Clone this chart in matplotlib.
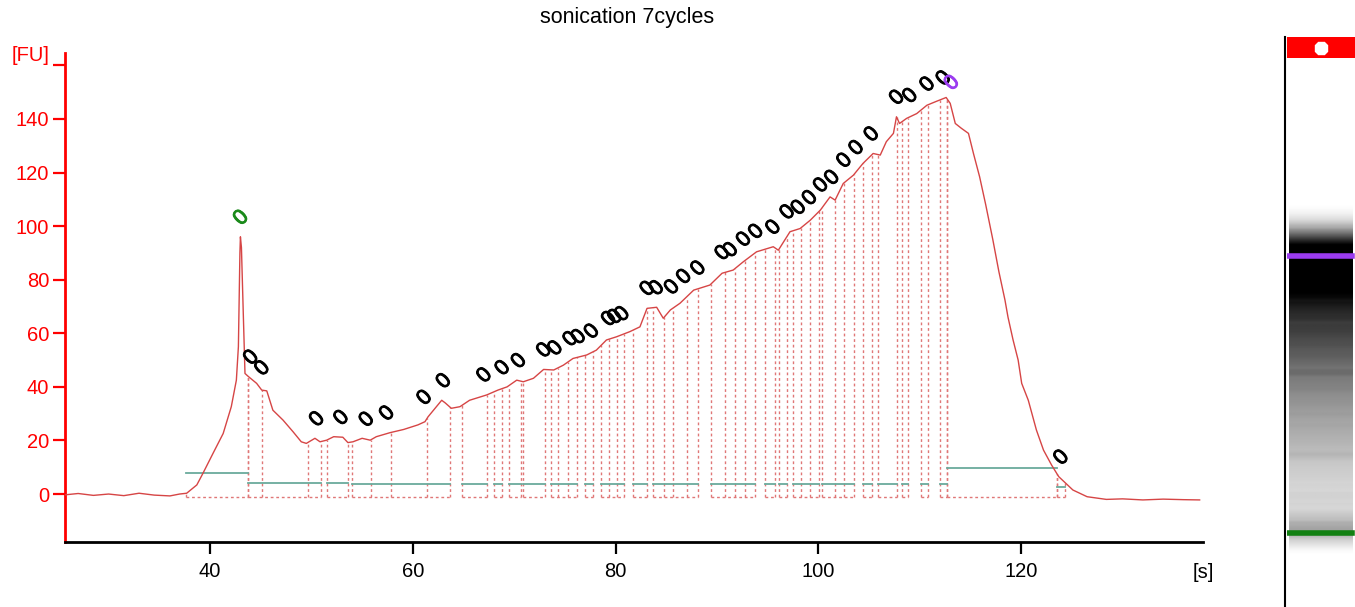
import numpy as np
import matplotlib
matplotlib.use("Agg")
import matplotlib.pyplot as plt
import matplotlib.patheffects as pe
from matplotlib.lines import Line2D

plt.rcParams['font.family'] = ['Liberation Sans', 'DejaVu Sans']

# ---------------- data ----------------
title = "sonication 7cycles"

time_s = [25.7, 27.0, 28.5, 30.0, 31.5, 33.0, 34.5, 36.05, 37.0, 37.7, 38.7, 39.3,
          40.3, 41.3, 42.1, 42.6, 42.8, 42.95, 43.0, 43.1, 43.3, 43.45, 43.8, 44.6,
          45.1, 45.6, 46.2, 47.2, 48.2, 49.0, 49.5, 50.35, 50.85, 51.5, 52.2, 53.1,
          53.6, 54.1, 55.0, 55.8, 56.4, 57.75, 59.1, 60.5, 61.2, 61.5, 62.85, 63.2,
          63.8, 64.65, 65.6, 67.3, 68.4, 69.3, 70.25, 70.9, 71.9, 72.9, 73.9, 74.85,
          75.8, 77.15, 78.1, 79.1, 80.1, 81.4, 82.4, 83.1, 84.05, 84.7, 85.4, 86.35,
          87.7, 89.3, 90.5, 91.6, 92.6, 93.9, 95.55, 96.05, 97.2, 98.2, 99.2, 100.2,
          101.15, 101.65, 102.45, 103.45, 104.4, 105.4, 106.1, 106.7, 107.4, 107.7,
          108.0, 108.7, 109.7, 110.7, 111.6, 112.6, 113.0, 113.5, 114.1, 114.8, 115.3,
          115.9, 116.5, 117.2, 117.8, 118.4, 118.7, 119.2, 119.7, 120.05, 120.7, 121.5,
          122.2, 123.0, 123.7, 125.1, 126.5, 128.4, 130.0, 132.0, 134.0, 136.0, 137.6]
fu = [-0.3, 0.2, -0.5, 0.0, -0.6, 0.3, -0.4, -0.7, 0.0, 0.3, 3.4, 7.7,
      15.2, 22.6, 32.6, 42.5, 55.0, 90.0, 96.0, 92.0, 65.0, 45.0, 43.8, 41.3,
      38.8, 38.5, 31.3, 27.6, 23.2, 19.5, 18.9, 20.8, 19.5, 20.1, 21.4, 21.2,
      19.2, 19.5, 20.8, 20.1, 21.4, 22.9, 24.1, 25.8, 27.0, 28.8, 35.0, 34.0,
      32.0, 32.6, 35.0, 37.0, 38.8, 40.0, 42.5, 41.9, 43.2, 46.5, 46.3, 48.1,
      50.6, 51.9, 53.7, 57.5, 58.7, 60.6, 62.4, 69.3, 69.7, 65.6, 68.7, 71.2,
      76.1, 78.0, 82.4, 83.6, 86.7, 90.4, 92.3, 91.0, 97.9, 99.1, 102.2, 106.0,
      110.9, 109.7, 115.9, 119.0, 123.4, 127.1, 126.5, 131.5, 134.6, 140.8,
      138.3, 140.2, 142.0, 145.1, 146.5, 148.0, 145.8, 138.3, 136.5, 134.6, 127.0,
      118.4, 108.0, 95.0, 83.0, 72.4, 66.0, 57.5, 50.0, 41.3, 35.0, 23.9,
      16.4, 10.8, 6.5, 1.5, -1.0, -2.0, -1.8, -2.2, -1.9, -2.1, -2.2]

lower_marker = 43.1
upper_marker = 113.2
peak_times = [44.1, 45.2, 50.6, 53.0, 55.5, 57.5, 61.2, 63.1, 67.1, 68.9,
              70.5, 73.0, 74.1, 75.6, 76.4, 77.7, 79.4, 80.0, 80.7, 83.2,
              84.1, 85.6, 86.8, 88.2, 90.6, 91.4, 92.7, 93.9, 95.6, 97.0,
              98.1, 99.2, 100.3, 101.4, 102.6, 103.8, 105.3, 107.8, 109.1, 110.8,
              112.4, 124.0]

peak_groups = [
    [37.63, 43.75],
    [43.75, 45.08, 49.62, 50.95],
    [51.54, 53.61],
    [54.0, 55.88, 57.85, 61.40, 63.67],
    [64.85, 67.32],
    [68.01, 68.80],
    [69.49, 70.67],
    [70.87, 73.04],
    [73.63, 74.32, 75.31, 76.19],
    [76.98, 77.77],
    [78.56, 79.35, 80.14, 80.83],
    [81.72, 83.10],
    [83.69, 84.77, 85.66, 87.04, 88.13],
    [89.41, 90.79, 91.78, 92.76, 93.75],
    [94.73, 95.73],
    [96.12, 96.90],
    [97.50, 98.28, 99.17, 100.08],
    [100.36, 101.66, 102.55, 103.51],
    [104.40, 105.25],
    [105.86, 107.73],
    [108.21, 108.84],
    [110.12, 110.81],
    [111.99, 112.68],
    [112.68, 123.53],
    [123.53, 124.32],
]
teal_levels = [7.9, 4.2, 4.2, 3.6, 3.6, 3.6, 3.6, 3.6, 3.6, 3.6, 3.6, 3.6, 3.6,
               3.6, 3.6, 3.6, 3.6, 3.6, 3.6, 3.6, 3.6, 3.6, 3.6, 9.7, 2.7]
base_level = -1.2

y_ticks = [0, 20, 40, 60, 80, 100, 120, 140, 160]
y_tick_labels = ['0', '20', '40', '60', '80', '100', '120', '140', '[FU]']
x_ticks = [40, 60, 80, 100, 120]
x_tick_labels = ['40', '60', '80', '100', '120']

# ---------------- styles ----------------
W, H = 1355, 607
curve_color = '#D64545'
dot_color = '#E07777'
teal_color = '#6AAA9C'
axis_red = '#FF0000'
green = '#1A8A1A'
purple = '#9B3BF0'

fig = plt.figure(figsize=(W / 100, H / 100), dpi=100)
fig.patch.set_facecolor('white')

ax = fig.add_axes([65 / W, 65 / H, 1138 / W, 489 / H])
ax.set_xlim(25.70, 137.93)
ax.set_ylim(-17.9, 164.6)

# peak windows: dotted outlines and teal baselines
for grp, lvl in zip(peak_groups, teal_levels):
    for b in grp:
        top = float(np.interp(b, time_s, fu))
        ax.plot([b, b], [base_level, top], color=dot_color, lw=1.0,
                linestyle=(0, (2, 2)), zorder=1)
    ax.plot([grp[0], grp[-1]], [base_level, base_level], color=dot_color, lw=1.0,
            linestyle=(0, (2, 2)), zorder=1)
    ax.plot([grp[0], grp[-1]], [lvl, lvl], color=teal_color, lw=1.3, zorder=2)

# electropherogram trace
ax.plot(time_s, fu, color=curve_color, lw=1.0, zorder=3)


def local_top(t):
    ts = np.linspace(t - 0.3, t + 0.3, 13)
    return float(np.interp(ts, time_s, fu).max())


def peak_label(t, color):
    ax.annotate('0', xy=(t, local_top(t)), xytext=(0, 13.5), textcoords='offset points',
                ha='center', va='center', rotation=45, fontsize=15.5, color=color,
                zorder=4,
                path_effects=[pe.withStroke(linewidth=0.7, foreground=color)])


for t in peak_times:
    peak_label(t, 'black')
peak_label(lower_marker, green)
peak_label(upper_marker, purple)

# axes styling
for s in ['top', 'right']:
    ax.spines[s].set_visible(False)
ax.spines['left'].set_color(axis_red)
ax.spines['left'].set_linewidth(2)
ax.spines['bottom'].set_color('black')
ax.spines['bottom'].set_linewidth(2)

ax.set_yticks(y_ticks)
ax.set_yticklabels(y_tick_labels)
ax.tick_params(axis='y', colors=axis_red, direction='out', length=8.5, width=1.6,
               labelsize=14.5, pad=3)
ax.get_yticklabels()[-1].set_verticalalignment('bottom')

ax.set_xticks(x_ticks)
ax.set_xticklabels(x_tick_labels)
ax.tick_params(axis='x', colors='black', direction='out', length=8.5, width=1.6,
               labelsize=14.5, pad=6)
ax.annotate('[s]', xy=(1, 0), xycoords='axes fraction', xytext=(0, -15.2),
            textcoords='offset points', ha='center', va='top', fontsize=14.5)

fig.text(627 / W, 1 - 17 / H, title, ha='center', va='center', fontsize=15.5)

# ---------------- gel lane ----------------
g_lo, g_hi = 24.3, 163.0
gax = fig.add_axes([1287 / W, 0, (W - 1287) / W, (H - 58) / H])
gel_t = np.arange(g_lo, g_hi, 0.1)
gel_fu = np.interp(gel_t, time_s, fu, left=0, right=0)
gray = 1 - np.clip(gel_fu / 120.0, 0, 1)
img = np.tile(gray[:, None], (1, 4))
gax.imshow(img, extent=[0.03, 0.96, g_lo, g_hi], origin='lower', aspect='auto',
           cmap='gray', vmin=0, vmax=1, interpolation='bilinear')
gax.axhline(upper_marker - 0.2, xmin=0.03, xmax=0.96, color=purple, lw=4)
gax.axhline(lower_marker, xmin=0.03, xmax=0.96, color='#128012', lw=4)
gax.set_xlim(0, 1)
gax.set_ylim(g_lo, g_hi)
gax.axis('off')

hax = fig.add_axes([1287 / W, (H - 58) / H, (W - 1287) / W, 21 / H])
hax.set_facecolor('#FF0000')
hax.set_xlim(0, 1)
hax.set_ylim(0, 1)
hax.plot([0.5], [0.5], marker='8', color='white', markersize=10)
hax.set_xticks([])
hax.set_yticks([])
for s in hax.spines.values():
    s.set_visible(False)

fig.add_artist(Line2D([1285 / W, 1285 / W], [0, (H - 37) / H], color='black', lw=1.5))

fig.savefig('out.png', dpi=100)
